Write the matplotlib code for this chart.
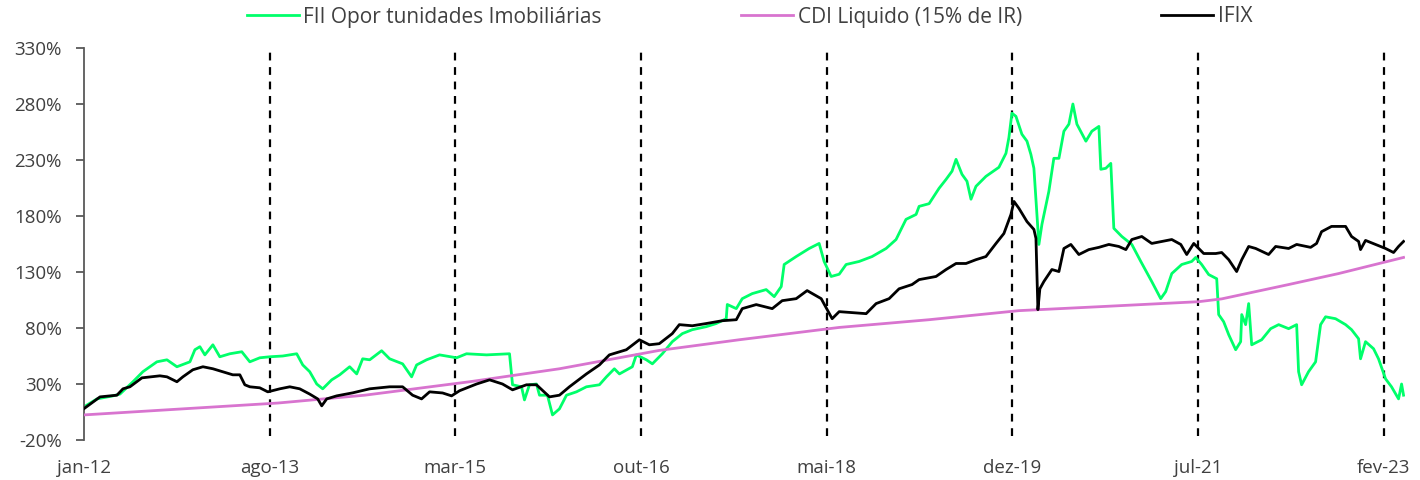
import matplotlib
matplotlib.use('Agg')
import matplotlib.pyplot as plt

plt.rcParams['font.family'] = ['Open Sans', 'DejaVu Sans']

# months since jan-12
tick_months = [0, 19, 38, 57, 76, 95, 114, 133]
tick_labels = ['jan-12', 'ago-13', 'mar-15', 'out-16', 'mai-18', 'dez-19', 'jul-21', 'fev-23']
y_ticks = [-20, 30, 80, 130, 180, 230, 280, 330]

fii_m = [0, 1.33, 2.96, 3.68, 5.01, 6.03, 7.46, 8.49, 9.51, 10.84, 11.35, 11.86, 12.37, 13.19,
         13.9, 14.93, 16.15, 16.97, 17.99, 19.01, 20.34, 21.77, 22.39, 23.1, 23.82, 24.43,
         25.35, 26.17, 27.19, 27.91, 28.52, 29.24, 30.46, 31.28, 32.61, 33.53, 34.04, 35.06,
         36.39, 38.13, 39.15, 41.2, 43.55, 43.86, 44.78, 45.08, 45.59, 46.31, 46.62, 47.43,
         47.95, 48.66, 49.38, 50.4, 51.42, 52.75, 53.47, 54.28, 54.8, 56.12, 56.53, 57.56,
         58.17, 59.19, 60.21, 61.24, 62.26, 63.69, 64.71, 65.73, 65.84, 66.76, 67.37, 68.39,
         69.82, 70.64, 71.36, 71.66, 72.89, 74.22, 75.24, 75.75, 76.47, 77.29, 78.0, 79.33,
         80.66, 82.09, 83.11, 84.13, 85.16, 85.47, 86.49, 87.51, 88.23, 88.84, 89.25, 89.86,
         90.37, 90.78, 91.29, 92.31, 93.64, 94.36, 94.66, 94.97, 95.38, 95.99, 96.51, 96.91,
         97.22, 97.53, 97.73, 98.04, 98.75, 99.26, 99.78, 100.29, 100.8, 101.21, 101.62,
         102.54, 103.15, 103.87, 104.07, 104.58, 105.09, 105.4, 106.22, 107.24, 108.16,
         109.28, 110.2, 110.71, 111.33, 112.35, 113.37, 113.78, 114.39, 115.11, 115.93,
         116.13, 116.64, 117.16, 117.87, 118.38, 118.49, 118.89, 119.2, 119.51, 120.53,
         121.45, 122.27, 123.29, 124.11, 124.31, 124.62, 125.33, 126.05, 126.56, 127.07,
         128.09, 129.12, 129.73, 130.45, 130.65, 131.16, 131.98, 132.49, 133.21, 133.82,
         134.54, 134.85, 135.05]
fii_v = [9.6, 16.7, 19.4, 21, 32, 41, 49.8, 51.6, 45.4, 49.8, 60.6, 63.3, 56, 65,
         54.3, 57, 58.8, 49.8, 53.4, 54.3, 55, 57, 47, 41, 30, 25.7,
         33.7, 38.2, 45.4, 39, 52.5, 51.6, 59.7, 52.5, 48, 36.4, 47, 51.6,
         56, 53.4, 57, 56, 57, 29.3, 27.5, 15.8, 29.3, 30, 20, 20,
         2.4, 7.8, 20, 23, 27.5, 29.3, 36.4, 43.6, 39, 45.4, 56, 51.6,
         48, 57, 67.8, 75, 78.5, 81.2, 84, 88.3, 101, 97.3, 106.2, 110.7,
         114.3, 108, 117, 136.7, 143.8, 151, 155.5, 139.4, 126, 128, 136.7, 139.4,
         143.8, 151, 159, 177, 181.4, 188.6, 191, 204.7, 212.7, 220, 230.6, 217.2,
         211, 195, 206.5, 215.4, 223.5, 236, 250, 271.8, 269, 253, 246.8, 235,
         222.6, 181.4, 154.6, 172.5, 202, 231.5, 231.5, 255.7, 262, 280, 262,
         246.8, 255.7, 260, 221.7, 222.6, 227, 169, 161.7, 154.6, 139.4,
         121.5, 106.2, 112.5, 128.6, 136.7, 139.4, 143, 136.7, 127.7, 124,
         92, 85.6, 74, 60.6, 67.8, 92, 83, 101.8, 65, 69.5,
         79.4, 83, 79.4, 83, 41, 29.3, 41, 49.8, 83, 90,
         88.3, 83, 78.5, 70.4, 52.5, 67.8, 61.5, 52.5, 34.6, 27.5,
         16.7, 30, 20]

cdi_m = [0, 19.83, 28.73, 39.46, 48.66, 58.88, 67.06, 77.29, 86.49, 95.69, 103.87, 114.09,
         116.44, 123.29, 128.4, 135.05]
cdi_v = [2.4, 13, 20, 32, 43.6, 60, 69.5, 80.5, 87.4, 95.5, 99, 103.5,
         106, 118.8, 128.6, 143]

ifix_m = [0, 1.64, 3.37, 3.99, 4.7, 5.93, 7.77, 8.49, 9.51, 10.12, 11.14, 12.17, 13.19, 15.23,
          15.95, 16.46, 16.97, 17.99, 18.81, 20.04, 21.06, 22.08, 23.1, 23.92, 24.33, 24.84,
          25.86, 27.5, 29.24, 31.28, 32.61, 33.63, 34.55, 35.37, 36.7, 37.62, 38.44, 40.18,
          41.51, 42.83, 43.86, 45.29, 46.31, 47.64, 48.66, 49.68, 51.42, 52.75, 53.77, 55.51,
          56.84, 57.86, 58.88, 60.21, 60.93, 62.26, 63.69, 65.33, 66.76, 67.37, 68.8, 70.44,
          71.46, 72.89, 74.01, 75.45, 76.57, 77.29, 78.62, 80.05, 81.07, 82.4, 83.42, 84.75,
          85.47, 87.2, 88.23, 89.25, 90.27, 91.29, 92.31, 93.34, 94.15, 94.87, 95.18, 95.69,
          96.51, 97.22, 97.43, 97.63, 97.83, 98.24, 99.06, 99.78, 100.29, 101.0, 101.82,
          102.84, 103.87, 104.89, 105.91, 106.63, 107.24, 108.26, 109.28, 110.31, 111.33,
          112.25, 112.86, 113.58, 114.6, 115.83, 116.44, 117.16, 117.97, 118.49, 119.2,
          119.92, 121.24, 121.96, 123.29, 124.11, 125.54, 126.15, 126.66, 127.68, 129.12,
          129.73, 130.45, 130.65, 131.16, 132.18, 133.21, 134.03, 134.54, 135.05]
ifix_v = [8, 18.5, 20, 25.7, 27.5, 35.5, 37.3, 36.4, 32, 36.4, 42.7, 45.4, 43.6, 38.2,
          38.2, 29.3, 27.5, 26.6, 23, 25.7, 27.5, 25.7, 21, 16.7, 10.5, 16.7,
          19.4, 22.1, 25.7, 27.5, 27.5, 20, 16.7, 23, 22, 19.4, 24, 30,
          33.7, 30, 24.8, 29.3, 29.3, 18.5, 20, 27.5, 39, 47, 56, 60.6,
          69.5, 65, 66, 75, 83, 82, 84, 86.5, 87.4, 97.3, 100.9, 97.3,
          104.4, 106.2, 113.4, 106.2, 88.3, 94.6, 93.7, 92.8, 101.8, 106.2, 115, 118.8,
          123.2, 126, 132.2, 137.6, 137.6, 141, 143.8, 155.5, 164.4, 181.4, 193, 186.8,
          175, 168, 160, 96.4, 115, 121.5, 132.2, 130.4, 151, 154.6, 145.6,
          150, 152, 154.6, 152.8, 150, 159, 161.7, 155.5, 157.3, 159,
          154.6, 145.6, 155.5, 146.5, 146.5, 147.4, 141, 130.4, 141, 152.8,
          151, 145.6, 152.8, 151, 154.6, 152, 155.5, 166, 170.7, 170.7,
          161.7, 157.3, 150, 158.2, 154.6, 151, 147.4, 152.8, 157.3]

fig = plt.figure(figsize=(14.2, 4.8), dpi=100)
ax = fig.add_axes([84/1420, 40/480, (1405-84)/1420, (440-48)/480])

for m in tick_months[1:]:
    ax.axvline(m, ymin=0.01, ymax=1, color='black', linestyle=(0, (3.5, 3)), lw=1.6, zorder=1)

ax.plot(fii_m, fii_v, color='#00FF6A', lw=2.0, label='FII Opor tunidades Imobiliárias', zorder=2)
ax.plot(cdi_m, cdi_v, color='#D874CF', lw=2.0, label='CDI Liquido (15% de IR)', zorder=3)
ax.plot(ifix_m, ifix_v, color='black', lw=2.0, label='IFIX', zorder=4)

ax.set_xlim(0, 135.2)
ax.set_ylim(-20, 330)
ax.set_yticks(y_ticks)
ax.set_yticklabels([f'{v}%' for v in y_ticks])
ax.set_xticks(tick_months)
ax.set_xticklabels(tick_labels)

for s in ['top', 'right', 'bottom']:
    ax.spines[s].set_visible(False)
ax.spines['left'].set_color('#595959')
ax.spines['left'].set_linewidth(1.3)
ax.tick_params(axis='y', length=6, width=1.3, color='#595959', labelsize=13.5,
               labelcolor='#404040', pad=10)
ax.tick_params(axis='x', length=0, labelsize=13.5, labelcolor='#404040', pad=14)

fig.legend(loc='center left', bbox_to_anchor=(247/1420, 1 - 17/480), ncol=3, frameon=False,
           fontsize=15, handlelength=2.5, handletextpad=0.2, columnspacing=6.7,
           borderpad=0, borderaxespad=0, labelcolor='#404040')

fig.savefig('out.png', dpi=100)
